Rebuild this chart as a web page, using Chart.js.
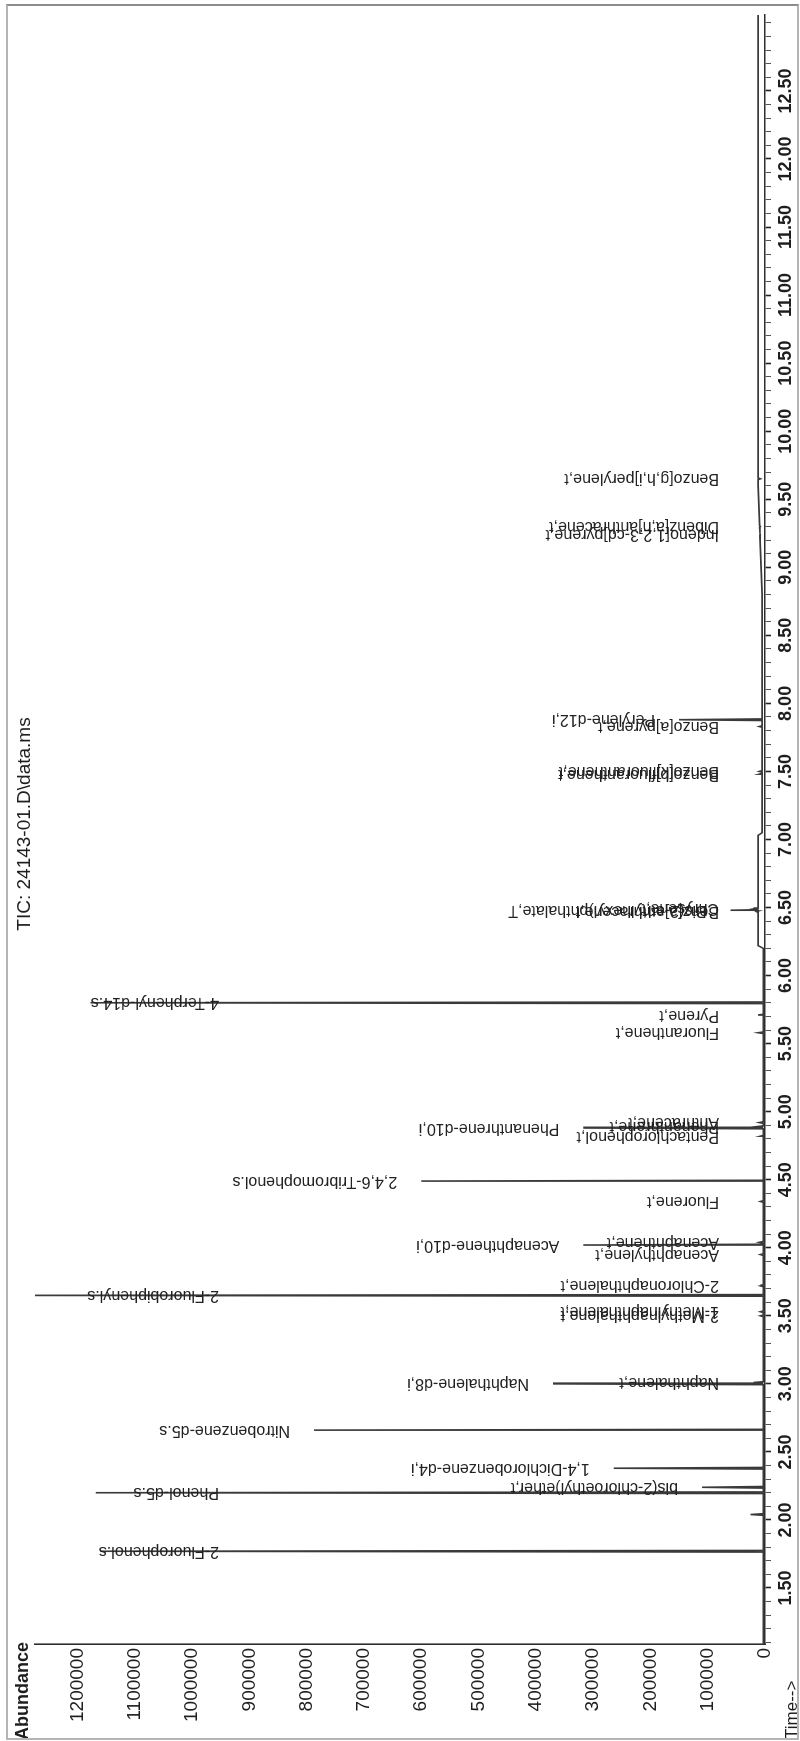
<!DOCTYPE html>
<html>
<head>
<meta charset="utf-8">
<title>TIC: 24143-01.D\data.ms</title>
<script src="https://cdn.jsdelivr.net/npm/chart.js@4.4.1/dist/chart.umd.min.js"></script>
<style>
  html, body { margin: 0; padding: 0; background: #fff; }
  body { width: 800px; height: 1741px; position: relative; overflow: hidden; }
  /* the chromatogram is laid out landscape and turned onto the portrait page */
  #wrap {
    position: absolute; left: 0; top: 0; width: 1741px; height: 800px;
    transform-origin: 0 0;
    transform: translate(0, 1741px) rotate(-90deg);
  }
  #frame {
    position: absolute; left: 6px; top: 4px; right: 1px; bottom: 1px;
    border: 2px solid #b4b4b4; border-top-color: #8c8c8c; pointer-events: none;
  }
</style>
</head>
<body>
<div id="wrap"><canvas id="tic" width="1741" height="800"></canvas></div>
<div id="frame"></div>
<script>
// retention time (min), apex abundance and compound label for each peak
const retentionTimes = [1.77, 2.04, 2.20, 2.24, 2.38, 2.66, 3.00, 3.01, 3.50, 3.53, 3.65, 3.72,
  3.95, 4.02, 4.04, 4.34, 4.49, 4.82, 4.88, 4.89, 4.92, 5.58, 5.71, 5.80, 6.47, 6.48, 6.49,
  7.48, 7.50, 7.83, 7.88, 9.24, 9.30, 9.65];
const peakAbundance = [1160000, 25000, 1168000, 110000, 264000, 787000, 370000, 20000, 8000, 8000, 1350000, 8000,
  8000, 317000, 10000, 8000, 600000, 8000, 317000, 15000, 10000, 12000, 12000, 1177000, 15000, 60000, 20000,
  10000, 10000, 10000, 150000, 8000, 8000, 8000];
const compoundNames = ['2-Fluorophenol.s', '', 'Phenol-d5.s', 'bis(2-chloroethyl)ether,t',
  '1,4-Dichlorobenzene-d4,i', 'Nitrobenzene-d5.s', 'Naphthalene-d8,i', 'Naphthalene,t',
  '2-Methylnaphthalene,t', '1-Methylnaphthalene,t', '2-Fluorobiphenyl.s', '2-Chloronaphthalene,t',
  'Acenaphthylene,t', 'Acenaphthene-d10,i', 'Acenaphthene,t', 'Fluorene,t', '2,4,6-Tribromophenol.s',
  'Pentachlorophenol,t', 'Phenanthrene-d10,i', 'Phenanthrene,t', 'Anthracene,t', 'Fluoranthene,t',
  'Pyrene,t', '4-Terphenyl-d14.s', 'Benz[a]anthracene,t', 'Bis(2-ethylhexyl)phthalate,T', 'Chrysene,t',
  'Benzo[b]fluoranthene,t', 'Benzo[k]fluoranthene,t', 'Benzo[a]pyrene,t', 'Perylene-d12,i',
  'Indeno[1,2,3-cd]pyrene,t', 'Dibenz[a,h]anthracene,t', 'Benzo[g,h,i]perylene,t'];

// baseline under the peaks (column bleed hump and late rise)
const baselineTimes = [1.09, 6.20, 6.22, 7.03, 7.05, 8.80, 9.60, 13.06];
const baselineAbundance = [3000, 3000, 12000, 12000, 5000, 5000, 12000, 12000];

const timeTickLabels = ['1.50', '2.00', '2.50', '3.00', '3.50', '4.00', '4.50', '5.00', '5.50', '6.00',
  '6.50', '7.00', '7.50', '8.00', '8.50', '9.00', '9.50', '10.00', '10.50', '11.00', '11.50', '12.00', '12.50'];
const abundanceTickLabels = ['0', '100000', '200000', '300000', '400000', '500000', '600000',
  '700000', '800000', '900000', '1000000', '1100000', '1200000'];

const FONT = "'Liberation Sans', Arial, sans-serif";

function baselineAt(t) {
  for (let i = 1; i < baselineTimes.length; i++) {
    if (t <= baselineTimes[i]) {
      const t0 = baselineTimes[i - 1], t1 = baselineTimes[i];
      const f = (t - t0) / (t1 - t0);
      return baselineAbundance[i - 1] + f * (baselineAbundance[i] - baselineAbundance[i - 1]);
    }
  }
  return baselineAbundance[baselineAbundance.length - 1];
}

// trace: baseline points plus a narrow spike for every peak
const trace = baselineTimes.map((t, i) => ({ x: t, y: baselineAbundance[i] }));
retentionTimes.forEach((t, i) => {
  const base = baselineAt(t);
  trace.push({ x: t - 0.006, y: base }, { x: t, y: peakAbundance[i] }, { x: t + 0.006, y: base });
});
trace.sort((a, b) => a.x - b.x);

const timeTicks = [];
for (let k = 11; k <= 130; k++) timeTicks.push({ value: k / 10 });
const isMajor = v => timeTickLabels.some(s => Math.abs(parseFloat(s) - v) < 1e-6);

// compound names written along each peak, reading up from just above the apex
const peakLabels = {
  id: 'peakLabels',
  afterDatasetsDraw(chart) {
    const { ctx, scales: { x, y } } = chart;
    const floor = y.getPixelForValue(0) - 46;
    const ceiling = y.getPixelForValue(953000);
    ctx.save();
    ctx.font = '16px ' + FONT;
    ctx.fillStyle = '#222';
    ctx.textAlign = 'left';
    ctx.textBaseline = 'middle';
    compoundNames.forEach((name, i) => {
      if (!name) return;
      const px = x.getPixelForValue(retentionTimes[i]);
      const tip = y.getPixelForValue(peakAbundance[i]) - 24;
      const start = Math.max(Math.min(tip, floor), ceiling);
      ctx.save();
      ctx.translate(px, start);
      ctx.rotate(-Math.PI / 2);
      ctx.fillText(name, 0, 0);
      ctx.restore();
    });
    ctx.restore();
  }
};

const headings = {
  id: 'headings',
  afterDraw(chart) {
    const { ctx } = chart;
    ctx.save();
    ctx.fillStyle = '#1e1e1e';
    ctx.textBaseline = 'alphabetic';
    ctx.font = '19px ' + FONT;
    ctx.textAlign = 'center';
    ctx.fillText('TIC: 24143-01.D\\data.ms', 917, 30);
    ctx.textAlign = 'left';
    ctx.font = 'bold 18px ' + FONT;
    ctx.fillText('Abundance', 1, 28);
    ctx.font = '17px ' + FONT;
    ctx.fillText('Time-->', 2, 797);
    ctx.restore();
  }
};

new Chart(document.getElementById('tic'), {
  type: 'line',
  data: {
    datasets: [{
      data: trace,
      borderColor: '#3a3a3a',
      borderWidth: 1.6,
      pointRadius: 0,
      tension: 0
    }]
  },
  options: {
    responsive: false,
    animation: false,
    devicePixelRatio: 1,
    layout: { padding: { top: 35, right: 15, bottom: 0, left: 0 } },
    plugins: { legend: { display: false }, tooltip: { enabled: false } },
    scales: {
      x: {
        type: 'linear',
        min: 1.0885,
        max: 13.058,
        afterBuildTicks: scale => { scale.ticks = timeTicks.map(t => ({ value: t.value })); },
        afterFit: scale => { scale.height = 35; },
        grid: {
          drawOnChartArea: false,
          drawTicks: true,
          tickLength: 6,
          tickColor: c => isMajor(c.tick.value) ? '#222' : '#555',
          tickWidth: c => isMajor(c.tick.value) ? 1.6 : 1
        },
        border: { display: true, color: '#2e2e2e', width: 1.6 },
        ticks: {
          autoSkip: false,
          maxRotation: 0,
          padding: 4,
          color: '#1e1e1e',
          font: { family: FONT, size: 18, weight: 'bold' },
          callback: v => {
            const hit = timeTickLabels.find(s => Math.abs(parseFloat(s) - v) < 1e-6);
            return hit || '';
          }
        }
      },
      y: {
        min: 0,
        max: 1274000,
        afterBuildTicks: scale => { scale.ticks = abundanceTickLabels.map(s => ({ value: Number(s) })); },
        afterFit: scale => { scale.width = 97; },
        grid: { display: false, drawTicks: false },
        border: { display: true, color: '#2e2e2e', width: 1.6 },
        ticks: {
          padding: 4,
          color: '#1e1e1e',
          font: { family: FONT, size: 19 },
          callback: v => String(v)
        }
      }
    }
  },
  plugins: [peakLabels, headings]
});
</script>
</body>
</html>
